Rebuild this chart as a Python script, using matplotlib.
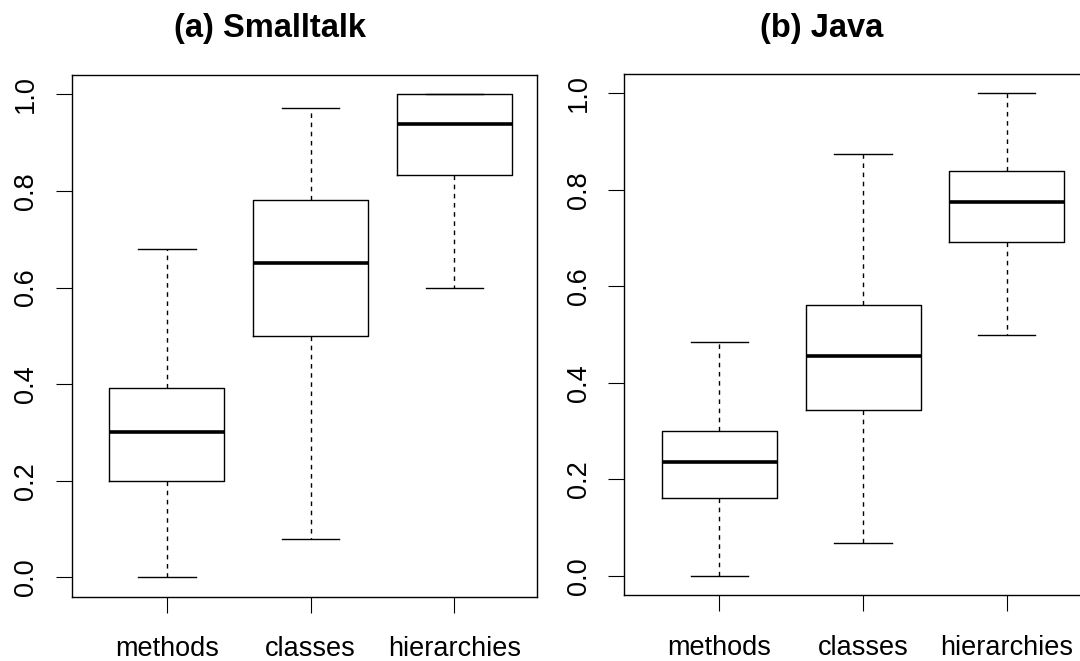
import matplotlib
matplotlib.use("Agg")
import matplotlib.pyplot as plt

plt.rcParams['font.family'] = ['Liberation Sans', 'DejaVu Sans']

categories = ['methods', 'classes', 'hierarchies']
yticks = [0.0, 0.2, 0.4, 0.6, 0.8, 1.0]
ytick_labels = ['0.0', '0.2', '0.4', '0.6', '0.8', '1.0']

# Smalltalk box statistics
st_whislo = [0.00, 0.080, 0.600]
st_q1 = [0.200, 0.500, 0.833]
st_med = [0.300, 0.650, 0.938]
st_q3 = [0.392, 0.781, 1.000]
st_whishi = [0.679, 0.972, 1.000]

# Java box statistics
jv_whislo = [0.00, 0.069, 0.500]
jv_q1 = [0.161, 0.344, 0.691]
jv_med = [0.236, 0.455, 0.775]
jv_q3 = [0.300, 0.562, 0.839]
jv_whishi = [0.485, 0.874, 1.000]

titles = ['(a) Smalltalk', '(b) Java']


def make_stats(lo, q1, med, q3, hi):
    return [dict(whislo=a, q1=b, med=c, q3=d, whishi=e, fliers=[], label=n)
            for a, b, c, d, e, n in zip(lo, q1, med, q3, hi, categories)]


fig = plt.figure(figsize=(10.8, 6.61), dpi=100)
ax1 = fig.add_axes([0.0664, 0.0973, 0.4306, 0.7893])
ax2 = fig.add_axes([0.5781, 0.0994, 0.4303, 0.7886])

panels = [
    (ax1, make_stats(st_whislo, st_q1, st_med, st_q3, st_whishi), titles[0], 0.4265, 1.0727),
    (ax2, make_stats(jv_whislo, jv_q1, jv_med, jv_q3, jv_whishi), titles[1], 0.4254, 1.0708),
]

for ax, stats, title, tx, ty in panels:
    ax.bxp(stats, positions=[1, 2, 3], widths=0.8, capwidths=0.4,
           showfliers=False, patch_artist=False,
           boxprops=dict(color='black', linewidth=1.0),
           medianprops=dict(color='black', linewidth=2.6, solid_capstyle='butt'),
           whiskerprops=dict(color='black', linewidth=1.0, linestyle=(0, (3.3, 3.3))),
           capprops=dict(color='black', linewidth=1.0))
    ax.set_xlim(0.338, 3.573)
    ax.set_ylim(-0.04, 1.04)
    ax.set_xticks([1, 2, 3])
    ax.set_xticklabels(categories, fontsize=19.5)
    ax.set_yticks(yticks)
    ax.set_yticklabels(ytick_labels, fontsize=19.5, rotation=90, va='center')
    ax.tick_params(axis='x', length=11.5, width=0.8, pad=17, color='black')
    ax.tick_params(axis='y', length=11.5, width=0.8, pad=11.8, color='black')
    for sp in ax.spines.values():
        sp.set_linewidth(1.0)
        sp.set_color('black')
    ax.text(tx, ty, title, transform=ax.transAxes, ha='center', va='baseline',
            fontsize=23.5, fontweight='bold')

fig.savefig('out.png', dpi=100)
